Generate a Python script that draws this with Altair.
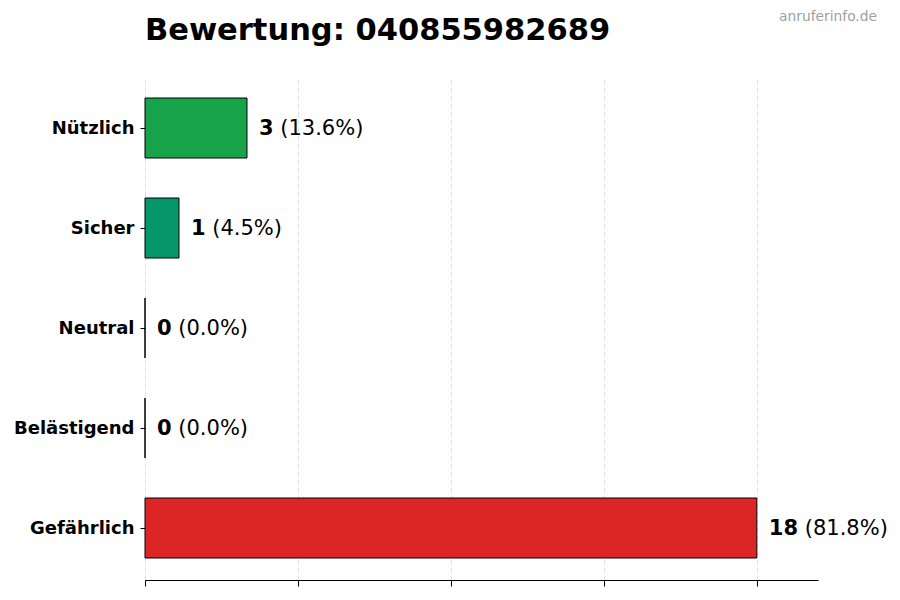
import altair as alt
import pandas as pd

# rating data
categories = ["Nützlich", "Sicher", "Neutral", "Belästigend", "Gefährlich"]
counts = [3, 1, 0, 0, 18]
percents = [13.6, 4.5, 0.0, 0.0, 81.8]
bar_colors = ["#16a34a", "#059669", "#6b7280", "#f97316", "#dc2626"]
grid_ticks = [0, 4.5, 9, 13.5, 18]

FONT = "DejaVu Sans"
X_MAX = 19.8
PLOT_W = 673
PX_PER_UNIT = PLOT_W / X_MAX
VAL_SIZE = 21

df = pd.DataFrame({"category": categories, "count": counts, "pct": percents})

y_enc = alt.Y(
    "category:N",
    sort=categories,
    title=None,
    scale=alt.Scale(paddingInner=0.4, paddingOuter=0.22),
    axis=alt.Axis(
        domain=False,
        grid=False,
        tickSize=5,
        tickColor="black",
        labelPadding=6,
        labelOffset=1,
        labelFont=FONT,
        labelFontSize=18,
        labelFontWeight="bold",
        labelColor="black",
    ),
)

x_scale = alt.Scale(domain=[0, X_MAX], nice=False, zero=True)

bars = (
    alt.Chart(df)
    .mark_bar(stroke="black", strokeWidth=1, cornerRadius=0)
    .encode(
        x=alt.X(
            "count:Q",
            scale=x_scale,
            title=None,
            axis=alt.Axis(
                values=grid_ticks,
                labels=False,
                tickSize=6,
                tickColor="black",
                domainColor="black",
                domainWidth=1,
                grid=True,
                gridColor="#d9d9d9",
                gridDash=[5, 3],
                gridWidth=0.8,
            ),
        ),
        y=y_enc,
        color=alt.Color(
            "category:N",
            scale=alt.Scale(domain=categories, range=bar_colors),
            legend=None,
        ),
    )
)

count_text = (
    alt.Chart(df)
    .mark_text(align="left", baseline="middle", dx=12, dy=1, font=FONT, fontSize=VAL_SIZE,
               fontWeight="bold", color="black")
    .encode(x=alt.X("count:Q", scale=x_scale), y=y_enc, text="count:Q")
)

# the plain "(xx.x%)" part sits right after the bold count
digit_w = 0.696 * VAL_SIZE
space_w = 0.318 * VAL_SIZE
pct_text = (
    alt.Chart(df)
    .transform_calculate(
        label="'(' + format(datum.pct, '.1f') + '%)'",
        xpos=f"datum.count + (length(toString(datum.count)) * {digit_w} + {space_w}) / {PX_PER_UNIT}",
    )
    .mark_text(align="left", baseline="middle", dx=12, dy=1, font=FONT, fontSize=VAL_SIZE, color="black")
    .encode(x=alt.X("xpos:Q", scale=x_scale), y=y_enc, text="label:N")
)

title = (
    alt.Chart(pd.DataFrame({"t": ["Bewertung: 040855982689"]}))
    .mark_text(align="left", baseline="alphabetic", font=FONT, fontSize=30.5,
               fontWeight="bold", color="black")
    .encode(x=alt.value(0), y=alt.value(-36), text="t:N")
)

watermark = (
    alt.Chart(pd.DataFrame({"t": ["anruferinfo.de"]}))
    .mark_text(align="right", baseline="alphabetic", font=FONT, fontSize=13.8, color="#a0a0a0")
    .encode(x=alt.value(732), y=alt.value(-55), text="t:N")
)

chart = (
    alt.layer(bars, count_text, pct_text, title, watermark)
    .properties(
        width=PLOT_W,
        height=504,
        view=alt.ViewBackground(stroke="transparent", strokeWidth=0),
        autosize=alt.AutoSizeParams(type="none"),
        padding={"left": 137, "top": 68, "right": 70, "bottom": 16},
    )
    .configure_view(stroke="transparent", strokeWidth=0)
    .configure(background="white")
)

chart.save("out.html", embed_options={"renderer": "svg", "actions": False})
